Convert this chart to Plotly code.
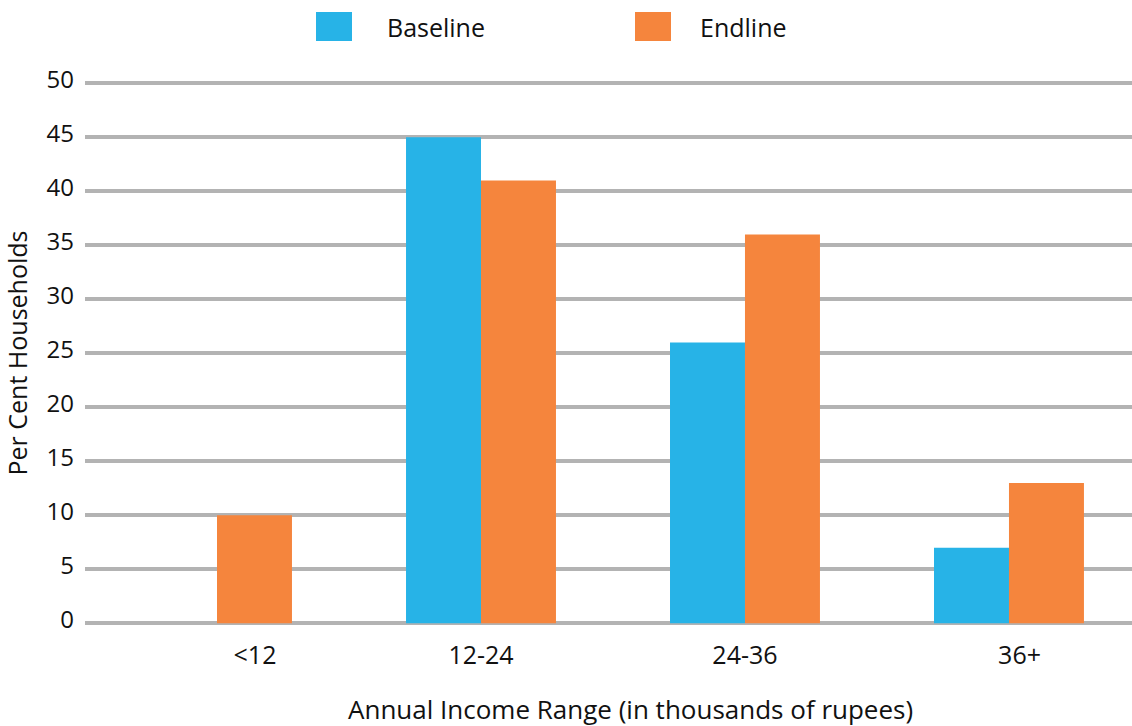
import plotly.graph_objects as go

# Household income distribution, baseline vs endline survey
income_ranges = ["<12", "12-24", "24-36", "36+"]
baseline_pct = [0, 45, 26, 7]
endline_pct = [10, 41, 36, 13]
series_names = ["Baseline", "Endline"]
y_ticks = [0, 5, 10, 15, 20, 25, 30, 35, 40, 45, 50]

BLUE = "#27B3E7"
ORANGE = "#F5853D"
GRID = "#B3B3B3"
FONT = "Open Sans, Noto Sans, sans-serif"
TEXT = "#111111"

W, H = 1132, 726
M_L, M_R, M_T, M_B = 85, 0, 80, 100

# group positions along x; labels nudged slightly right of some groups
x_pos = list(range(len(income_ranges)))
label_nudge = [0.144, 0.0, 0.0, 0.04]

fig = go.Figure()
fig.add_trace(go.Bar(x=x_pos, y=baseline_pct, name=series_names[0],
                     marker=dict(color=BLUE, line=dict(width=0))))
fig.add_trace(go.Bar(x=x_pos, y=endline_pct, name=series_names[1],
                     marker=dict(color=ORANGE, line=dict(width=0))))

# Legend drawn as swatches + labels above the plot
plot_w = W - M_L - M_R
plot_h = H - M_T - M_B
def px_x(px):
    return (px - M_L) / plot_w
def px_y(py):
    return (H - M_B - py) / plot_h

legend_items = [(series_names[0], BLUE, 316, 387), (series_names[1], ORANGE, 635, 700)]
shapes, annots = [], []
for name, color, sx, tx in legend_items:
    shapes.append(dict(type="rect", xref="paper", yref="paper",
                       x0=px_x(sx), x1=px_x(sx + 36), y0=px_y(41), y1=px_y(12),
                       fillcolor=color, line=dict(width=0)))
    annots.append(dict(text=name, xref="paper", yref="paper", x=px_x(tx - 2), y=px_y(27),
                       xanchor="left", yanchor="middle", showarrow=False,
                       font=dict(family=FONT, size=25, color=TEXT)))

# x-axis title
annots.append(dict(text="Annual Income Range (in thousands of rupees)",
                   xref="paper", yref="paper", x=px_x(630), y=px_y(709),
                   xanchor="center", yanchor="middle", showarrow=False,
                   font=dict(family=FONT, size=26, color=TEXT)))

fig.update_layout(
    width=W, height=H,
    margin=dict(l=M_L, r=M_R, t=M_T, b=M_B),
    paper_bgcolor="white", plot_bgcolor="white",
    barmode="group", bargap=0.432, bargroupgap=0,
    showlegend=False,
    font=dict(family=FONT, size=25, color=TEXT),
    shapes=shapes, annotations=annots,
)
fig.update_xaxes(
    range=[-0.5, 3.466],
    tickvals=[p + n for p, n in zip(x_pos, label_nudge)], ticktext=income_ranges,
    showgrid=False, zeroline=False, showline=False,
    ticks="", ticklabelstandoff=12,
    tickfont=dict(family=FONT, size=25, color=TEXT),
)
fig.update_yaxes(
    range=[-0.25, 50.3], tickvals=y_ticks,
    showgrid=True, gridcolor=GRID, gridwidth=4,
    zeroline=False, showline=False,
    ticks="", ticklabelstandoff=10, ticklabelshift=-4,
    tickfont=dict(family=FONT, size=24, color=TEXT),
    title=dict(text="Per Cent Households", standoff=18,
               font=dict(family=FONT, size=25, color=TEXT)),
)

fig.write_html("out.html")
